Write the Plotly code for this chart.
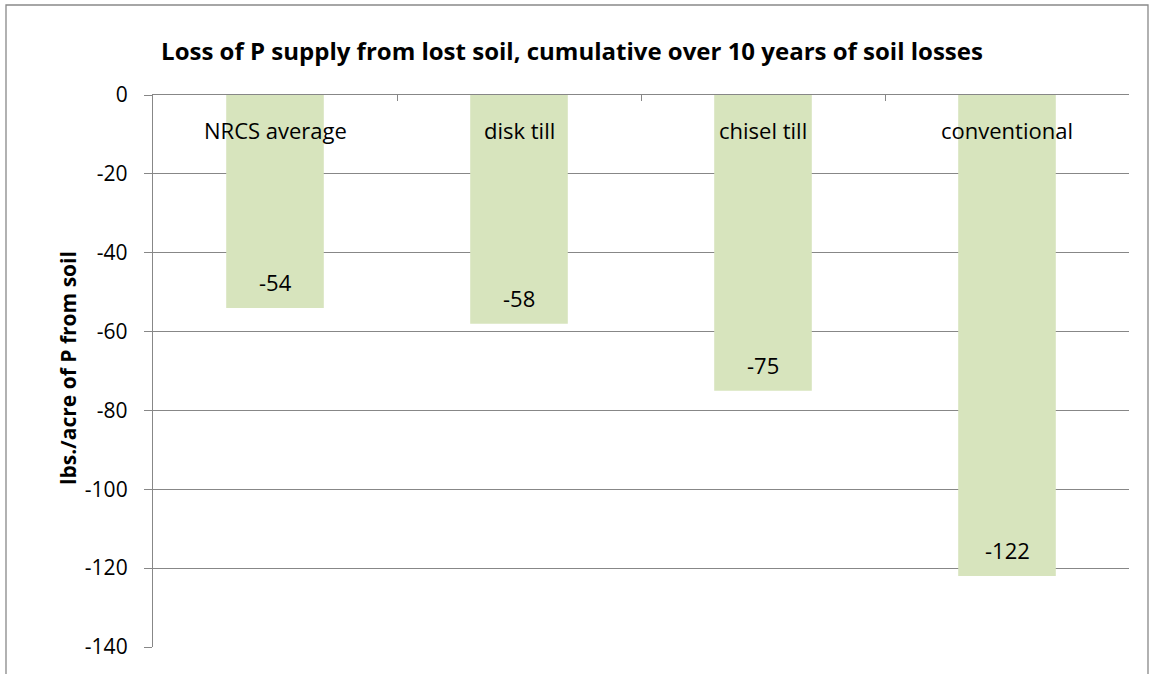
import plotly.graph_objects as go

categories = ["NRCS average", "disk till", "chisel till", "conventional"]
values = [-54, -58, -75, -122]
y_ticks = [0, -20, -40, -60, -80, -100, -120, -140]

title_text = "Loss of P supply from lost soil, cumulative over 10 years of soil losses"
y_title = "lbs./acre of P from soil"

FONT = "Open Sans"
GRID = "#878787"
L, R, T, B = 153, 24, 95, 27
W, H = 1153, 674
PW, PH = W - L - R, H - T - B

fig = go.Figure()
fig.add_trace(go.Bar(
    x=categories,
    y=values,
    marker=dict(color="#D7E4BD", line=dict(width=0)),
    width=0.4,
    hoverinfo="skip",
))

# data labels inside the bar ends
for c, v in zip(categories, values):
    fig.add_annotation(x=c, y=v, xref="x", yref="y", text=str(v), showarrow=False,
                       yanchor="middle", yshift=26,
                       font=dict(family=FONT, size=22, color="black"))

# category labels just below the zero line
for c in categories:
    fig.add_annotation(x=c, y=0, xref="x", yref="y", text=c, showarrow=False,
                       yanchor="middle", yshift=-35,
                       font=dict(family=FONT, size=22, color="black"))

# y-axis title
fig.add_annotation(xref="paper", yref="paper", x=(68 - L) / PW, y=(H - B - 368) / PH,
                   text="<b>" + y_title + "</b>", textangle=-90, showarrow=False,
                   xanchor="center", yanchor="middle",
                   font=dict(family=FONT, size=21, color="black"))

fig.update_layout(
    width=W, height=H,
    margin=dict(l=L, r=R, t=T, b=B, autoexpand=False),
    paper_bgcolor="white", plot_bgcolor="white",
    showlegend=False,
    title=dict(text="<b>" + title_text + "</b>", x=572 / W, xanchor="center",
               xref="container", y=1 - 52 / H, yanchor="middle",
               font=dict(family=FONT, size=24, color="black")),
    font=dict(family=FONT, color="black"),
)

fig.update_xaxes(
    side="top",
    showticklabels=False,
    ticks="inside", ticklen=6, tickcolor=GRID, tickwidth=1,
    tickson="boundaries",
    showline=True, linecolor=GRID, linewidth=1.3,
    showgrid=False,
    automargin=False,
)

fig.update_yaxes(
    range=[-140, 0],
    tickvals=y_ticks,
    ticktext=[str(v) for v in y_ticks],
    ticks="outside", ticklen=8, tickcolor=GRID, tickwidth=1,
    showline=True, linecolor=GRID, linewidth=1.3,
    showgrid=True, gridcolor=GRID, gridwidth=1.3,
    zeroline=False,
    tickfont=dict(family=FONT, size=21, color="black"),
    ticklabelstandoff=12,
    automargin=False,
)

# chart border (cut at bottom like the reference)
fig.add_shape(type="rect", xref="paper", yref="paper",
              x0=(6 - L) / PW, x1=(1148 - L) / PW,
              y0=-0.2, y1=1 + (T - 5) / PH,
              line=dict(color="#898989", width=1.3), layer="below")

fig.write_html("out.html", config={"displayModeBar": False},
               post_script="document.body.style.margin='0px';")
